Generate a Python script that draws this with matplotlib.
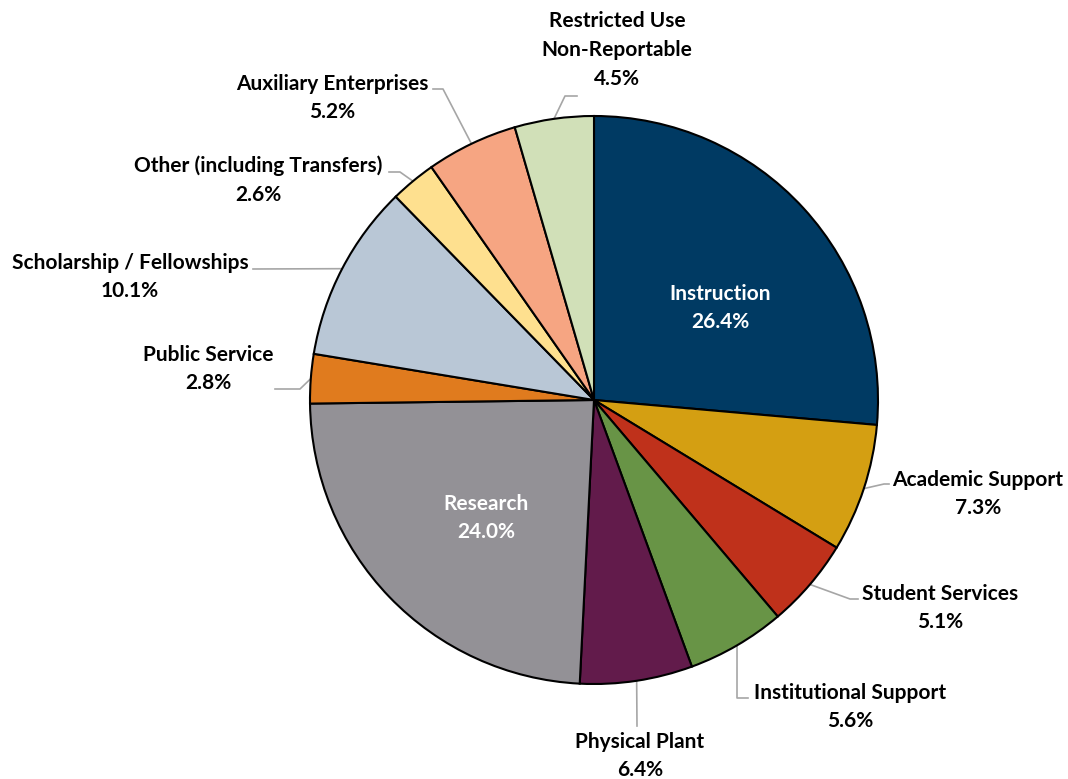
import numpy as np
import matplotlib.pyplot as plt

# data
labels = ["Instruction", "Academic Support", "Student Services", "Institutional Support",
          "Physical Plant", "Research", "Public Service", "Scholarship / Fellowships",
          "Other (including Transfers)", "Auxiliary Enterprises", "Restricted Use\nNon-Reportable"]
values = [26.4, 7.3, 5.1, 5.6, 6.4, 24.0, 2.8, 10.1, 2.6, 5.2, 4.5]
colors = ["#003A63", "#D49F12", "#BF311B", "#689446", "#621B4B", "#939196",
          "#E07B1E", "#B9C7D6", "#FEE08F", "#F6A582", "#D1E0B8"]

# layout in pixels (center of pie 594,400, radius 284)
CX, CY, R = 594, 400, 284


def px(x, y):
    return (x - CX) / R, (CY - y) / R


# label centre, then leader elbow and end (pixels); None = label inside
label_pos = [(720, 308), (978, 494), (940, 608), (850, 707), (640, 756), (486, 518),
             (208, 369), (130, 277), (258, 180), (332, 98), (617, 50)]
leaders = [None,
           [(884, 484), (889, 484)],
           [(850, 599), (858, 599)],
           [(737, 698), (748, 698)],
           [(637, 726)],
           None,
           [(300, 389), (275, 389)],
           [(253, 269)],
           [(400, 172), (389, 172)],
           [(443, 89), (433, 89)],
           [(565, 96), (577, 96)]]

plt.rcParams['font.family'] = ['Lato', 'DejaVu Sans']

fig = plt.figure(figsize=(10.68, 7.79), dpi=100)
ax = fig.add_axes([0, 0, 1, 1])
wedges, _ = ax.pie(values, colors=colors, startangle=90, counterclock=False, radius=1,
                   wedgeprops=dict(edgecolor="black", linewidth=1.5))
ax.set_xlim((0 - CX) / R, (1068 - CX) / R)
ax.set_ylim((CY - 779) / R, CY / R)
ax.set_aspect("equal")
ax.axis("off")

for i, w in enumerate(wedges):
    txt = f"{labels[i]}\n{values[i]:.1f}%"
    x, y = px(*label_pos[i])
    c = "white" if leaders[i] is None else "black"
    ax.text(x, y, txt, ha="center", va="center", fontsize=15, fontweight="bold",
            color=c, linespacing=1.55)
    if leaders[i] is not None:
        mid = np.deg2rad((w.theta1 + w.theta2) / 2)
        xs = [np.cos(mid)] + [px(*p)[0] for p in leaders[i]]
        ys = [np.sin(mid)] + [px(*p)[1] for p in leaders[i]]
        ax.plot(xs, ys, color="#A6A6A6", linewidth=1.2, zorder=0)

fig.savefig("out.png", dpi=100)
